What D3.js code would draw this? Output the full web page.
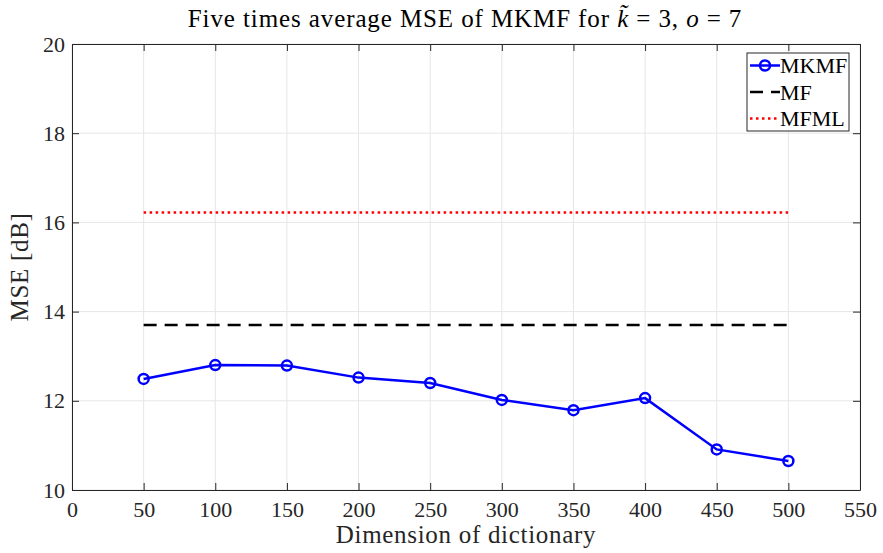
<!DOCTYPE html>
<html>
<head>
<meta charset="utf-8">
<script src="https://cdn.jsdelivr.net/npm/d3@7/dist/d3.min.js"></script>
<style>
  html, body { margin: 0; padding: 0; background: #fff; }
  .serif { font-family: "Liberation Serif"; }
</style>
</head>
<body>
<svg id="chart" width="883" height="553"></svg>
<script>
// Dictionary sizes and the averaged MSE of each method
const dims = [50, 100, 150, 200, 250, 300, 350, 400, 450, 500];
const mkmf = [12.49, 12.80, 12.79, 12.52, 12.40, 12.02, 11.79, 12.06, 10.91, 10.65];
const mf = [13.70, 13.70, 13.70, 13.70, 13.70, 13.70, 13.70, 13.70, 13.70, 13.70];
const mfml = [16.22, 16.22, 16.22, 16.22, 16.22, 16.22, 16.22, 16.22, 16.22, 16.22];
const xTicks = [0, 50, 100, 150, 200, 250, 300, 350, 400, 450, 500, 550];
const yTicks = [10, 12, 14, 16, 18, 20];
const seriesNames = ["MKMF", "MF", "MFML"];

const INK = "#262626";

const svg = d3.select("#chart");
const m = { left: 72, right: 860, top: 44, bottom: 490 };
const x = d3.scaleLinear().domain([0, 550]).range([m.left, m.right]);
const y = d3.scaleLinear().domain([10, 20]).range([m.bottom, m.top]);

// light grid
const grid = svg.append("g").attr("stroke", "#e6e6e6").attr("stroke-width", 1);
xTicks.forEach(t => grid.append("line").attr("x1", x(t)).attr("x2", x(t)).attr("y1", m.top).attr("y2", m.bottom));
yTicks.forEach(t => grid.append("line").attr("x1", m.left).attr("x2", m.right).attr("y1", y(t)).attr("y2", y(t)));

// boxed axes with inward ticks
const axisStyle = g => {
  g.attr("font-family", null).attr("font-size", 22).attr("class", "serif");
  g.select(".domain").attr("stroke", INK);
  g.selectAll(".tick line").attr("stroke", INK);
  g.selectAll(".tick text").attr("fill", INK);
};
svg.append("g").attr("transform", `translate(0,${m.bottom})`)
  .call(d3.axisBottom(x).tickValues(xTicks).tickSizeInner(-7).tickSizeOuter(0).tickPadding(11))
  .call(axisStyle);
svg.append("g").attr("transform", `translate(${m.left},0)`)
  .call(d3.axisLeft(y).tickValues(yTicks).tickSizeInner(-7).tickSizeOuter(0).tickPadding(7))
  .call(axisStyle);
svg.append("g").attr("transform", `translate(0,${m.top})`)
  .call(d3.axisTop(x).tickValues(xTicks).tickSizeInner(-7).tickSizeOuter(0).tickFormat(""))
  .call(axisStyle);
svg.append("g").attr("transform", `translate(${m.right},0)`)
  .call(d3.axisRight(y).tickValues(yTicks).tickSizeInner(-7).tickSizeOuter(0).tickFormat(""))
  .call(axisStyle);

// series
const line = d3.line().x((d, i) => x(dims[i])).y(d => y(d));
svg.append("path").datum(mfml).attr("d", line).attr("fill", "none")
  .attr("stroke", "#ff0000").attr("stroke-width", 2.5).attr("stroke-dasharray", "2.5,3.5");
svg.append("path").datum(mf).attr("d", line).attr("fill", "none")
  .attr("stroke", "#000").attr("stroke-width", 2.5).attr("stroke-dasharray", "13,8");
svg.append("path").datum(mkmf).attr("d", line).attr("fill", "none")
  .attr("stroke", "#0000ff").attr("stroke-width", 2.5);
svg.append("g").selectAll("circle").data(mkmf).join("circle")
  .attr("cx", (d, i) => x(dims[i])).attr("cy", d => y(d)).attr("r", 5)
  .attr("fill", "none").attr("stroke", "#0000ff").attr("stroke-width", 2.5);

// title and axis labels
const title = svg.append("text").attr("class", "serif").attr("x", 465).attr("y", 27)
  .attr("text-anchor", "middle").attr("font-size", 25).attr("letter-spacing", 0.9)
  .attr("fill", "#000");
title.append("tspan").text("Five times average MSE of MKMF for ");
title.append("tspan").attr("font-style", "italic").text("k\u0303");
title.append("tspan").text(" = 3, ");
title.append("tspan").attr("font-style", "italic").text("o");
title.append("tspan").text(" = 7");

svg.append("text").attr("class", "serif").attr("x", 466).attr("y", 543)
  .attr("text-anchor", "middle").attr("font-size", 25).attr("letter-spacing", 0.7)
  .attr("fill", INK).text("Dimension of dictionary");
svg.append("text").attr("class", "serif")
  .attr("transform", `translate(28,${(m.top + m.bottom) / 2}) rotate(-90)`)
  .attr("text-anchor", "middle").attr("font-size", 25).attr("letter-spacing", 0.7)
  .attr("fill", INK).text("MSE [dB]");

// legend
const lg = svg.append("g");
lg.append("rect").attr("x", 747).attr("y", 53).attr("width", 102).attr("height", 78)
  .attr("fill", "#fff").attr("stroke", INK).attr("stroke-width", 1);
const styles = [
  { color: "#0000ff", dash: null, marker: true },
  { color: "#000", dash: "13,8", marker: false },
  { color: "#ff0000", dash: "2.5,3.5", marker: false }
];
seriesNames.forEach((name, i) => {
  const s = styles[i];
  const yy = 65.5 + i * 26.5;
  lg.append("line").attr("x1", 750).attr("x2", 780).attr("y1", yy).attr("y2", yy)
    .attr("stroke", s.color).attr("stroke-width", 2.5).attr("stroke-dasharray", s.dash);
  if (s.marker) lg.append("circle").attr("cx", 765).attr("cy", yy).attr("r", 5)
    .attr("fill", "none").attr("stroke", s.color).attr("stroke-width", 2.5);
  lg.append("text").attr("class", "serif").attr("x", 780).attr("y", yy + 7.5).attr("font-size", 22)
    .attr("fill", "#000").text(name);
});
</script>
</body>
</html>
